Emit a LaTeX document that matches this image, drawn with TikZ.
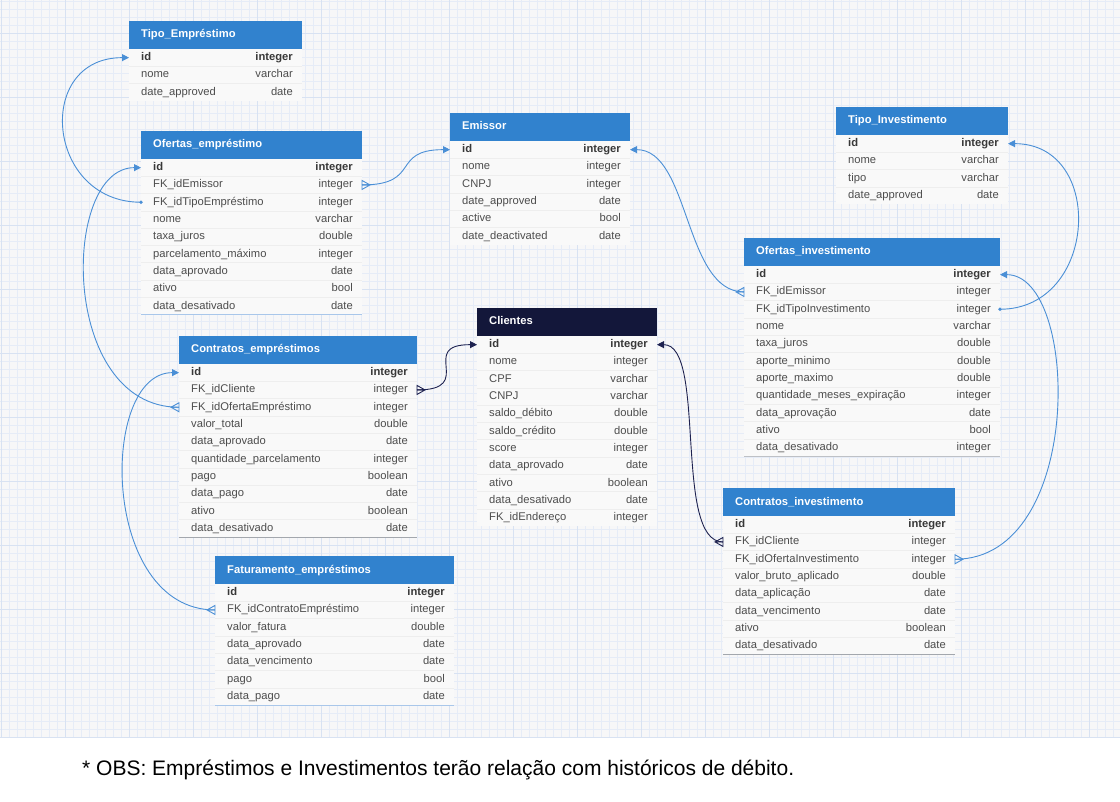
\documentclass[tikz,border=0pt]{standalone}
\usepackage{fontspec}
\setmainfont{Liberation Sans}
\usetikzlibrary{arrows.meta}

\definecolor{hdrblue}{HTML}{3182CE}
\definecolor{hdrnavy}{HTML}{13173A}
\definecolor{linkblue}{HTML}{4A8FD6}
\definecolor{linknavy}{HTML}{1E2250}
\definecolor{fieldtxt}{HTML}{4D4D4D}
\definecolor{idtxt}{HTML}{383838}
\definecolor{canvas}{HTML}{F7F7F8}
\definecolor{gridminor}{HTML}{E6ECF7}
\definecolor{gridmajor}{HTML}{D8E2F2}
\definecolor{rowfill}{HTML}{F9F9F9}
\definecolor{rowsep}{HTML}{EEEEEE}
\definecolor{edgegray}{HTML}{A3A7AD}
\definecolor{edgeblue}{HTML}{A9C7EA}

\tikzset{
  hdr/.style={fill=#1, minimum height=28pt, anchor=north west, inner sep=0pt, outer sep=0pt},
  rowbox/.style={fill=rowfill, minimum height=17.3pt, anchor=north west, inner sep=0pt, outer sep=0pt},
  fieldtext/.style={anchor=west, inner sep=0pt, text height=8pt, text depth=2pt,
    font=\fontsize{11.2}{13}\selectfont, text=fieldtxt},
  typetext/.style={anchor=east, inner sep=0pt, text height=8pt, text depth=2pt,
    font=\fontsize{11.2}{13}\selectfont, text=fieldtxt},
  titletext/.style={anchor=west, inner sep=0pt, text height=8pt, text depth=2pt,
    font=\fontsize{11.2}{13}\selectfont\bfseries, text=white},
  sepline/.style={draw=rowsep, line width=0.6pt},
  conn/.style={draw=#1, line width=0.9pt},
  onetip/.style={-{Triangle[length=7pt,width=7pt]}},
  crow/.style={draw=#1, line width=0.9pt, line join=miter},
  gminor/.style={draw=gridminor, line width=0.5pt},
  gmajor/.style={draw=gridmajor, line width=0.7pt},
  notetext/.style={anchor=base west, inner sep=0pt, font=\fontsize{21}{24}\selectfont, text=black},
}

% one table: name, x, y, width, title, header colour, list of field/type
\newcommand\erdtable[7]{%
  \node[hdr=#6, minimum width=#4pt] (#1) at (#2,#3) {};
  \node[titletext] (#1-title) at ([xshift=12pt]#1.west) {#5};
  \foreach \fld/\typ [count=\i] in {#7} {
    \node[rowbox, minimum width=#4pt] (#1-\i) at (#2,{#3+28+(\i-1)*17.3}) {};
    \ifnum\i>1 \draw[sepline] (#1-\i.north west) -- (#1-\i.north east);\fi
    \ifnum\i=1
      \node[fieldtext, text=idtxt, font=\fontsize{11.2}{13}\selectfont\bfseries] (#1-\i-f) at ([xshift=12pt]#1-\i.west) {\fld};
      \node[typetext, text=idtxt, font=\fontsize{11.2}{13}\selectfont\bfseries] (#1-\i-t) at ([xshift=-9pt]#1-\i.east) {\typ};
    \else
      \node[fieldtext] (#1-\i-f) at ([xshift=12pt]#1-\i.west) {\fld};
      \node[typetext] (#1-\i-t) at ([xshift=-9pt]#1-\i.east) {\typ};
    \fi
  }%
}

% open crow's foot on the right / left edge of a row
\newcommand\crowR[2]{\draw[crow=#2] ([yshift=4.5pt]#1) -- ++(8,4.5) -- ++(-8,4.5) -- cycle (#1) -- ++(8,0);}
\newcommand\crowL[2]{\draw[crow=#2] ([yshift=4.5pt]#1) -- ++(-8,4.5) -- ++(8,4.5) -- cycle (#1) -- ++(-8,0);}

\begin{document}
\begin{tikzpicture}[x=1pt,y=-1pt]
\useasboundingbox (0,0) rectangle (1120,802);
\fill[white] (0,0) rectangle (1120,802);
\fill[canvas] (0,0) rectangle (1120,738);

% grid paper
\foreach \gx in {1,9,...,1119} \draw[gminor] (\gx,0) -- (\gx,738);
\foreach \gy in {1,9,...,737} \draw[gminor] (0,\gy) -- (1120,\gy);
\foreach \gx in {1,65,...,1119} \draw[gmajor] (\gx,0) -- (\gx,738);
\foreach \gy in {33,97,...,737} \draw[gmajor] (0,\gy) -- (1120,\gy);

% tables
\erdtable{tipoemp}{129}{21}{173}{Tipo\_Empréstimo}{hdrblue}{
  id/integer, nome/varchar, date\_approved/date}

\erdtable{ofemp}{141}{131}{221}{Ofertas\_empréstimo}{hdrblue}{
  id/integer, FK\_idEmissor/integer, FK\_idTipoEmpréstimo/integer, nome/varchar,
  taxa\_juros/double, parcelamento\_máximo/integer, data\_aprovado/date,
  ativo/bool, data\_desativado/date}

\erdtable{emissor}{450}{113}{180}{Emissor}{hdrblue}{
  id/integer, nome/integer, CNPJ/integer, date\_approved/date, active/bool,
  date\_deactivated/date}

\erdtable{tipoinv}{836}{107}{172}{Tipo\_Investimento}{hdrblue}{
  id/integer, nome/varchar, tipo/varchar, date\_approved/date}

\erdtable{ofinv}{744}{238}{256}{Ofertas\_investimento}{hdrblue}{
  id/integer, FK\_idEmissor/integer, FK\_idTipoInvestimento/integer, nome/varchar,
  taxa\_juros/double, aporte\_minimo/double, aporte\_maximo/double,
  quantidade\_meses\_expiração/integer, data\_aprovação/date, ativo/bool,
  data\_desativado/integer}

\erdtable{clientes}{477}{308}{180}{Clientes}{hdrnavy}{
  id/integer, nome/integer, CPF/varchar, CNPJ/varchar, saldo\_débito/double,
  saldo\_crédito/double, score/integer, data\_aprovado/date, ativo/boolean,
  data\_desativado/date, FK\_idEndereço/integer}

\erdtable{contemp}{179}{336}{238}{Contratos\_empréstimos}{hdrblue}{
  id/integer, FK\_idCliente/integer, FK\_idOfertaEmpréstimo/integer,
  valor\_total/double, data\_aprovado/date, quantidade\_parcelamento/integer,
  pago/boolean, data\_pago/date, ativo/boolean, data\_desativado/date}

\erdtable{continv}{723}{488}{232}{Contratos\_investimento}{hdrblue}{
  id/integer, FK\_idCliente/integer, FK\_idOfertaInvestimento/integer,
  valor\_bruto\_aplicado/double, data\_aplicação/date, data\_vencimento/date,
  ativo/boolean, data\_desativado/date}

\erdtable{fatemp}{215}{556}{239}{Faturamento\_empréstimos}{hdrblue}{
  id/integer, FK\_idContratoEmpréstimo/integer, valor\_fatura/double,
  data\_aprovado/date, data\_vencimento/date, pago/bool, data\_pago/date}

% bottom edges of some tables
\draw[edgeblue, line width=1pt] (ofemp-9.south west) -- (ofemp-9.south east);
\draw[edgegray, line width=1pt] (contemp-10.south west) -- (contemp-10.south east);
\draw[edgeblue, line width=1pt] (fatemp-7.south west) -- (fatemp-7.south east);
\draw[edgegray!70, line width=1pt] (ofinv-11.south west) -- (ofinv-11.south east);
\draw[edgegray, line width=1pt] (continv-8.south west) -- (continv-8.south east);

% relations
\draw[conn=linkblue, onetip] (ofemp-3.west) .. controls +(-95,0) and +(-95,0) .. (tipoemp-1.west);
\fill[linkblue] (ofemp-3.west) circle (1.8pt);

\draw[conn=linkblue, onetip] (ofemp-2.east) .. controls +(60,0) and +(-60,0) .. (emissor-1.west);
\crowR{ofemp-2.east}{linkblue}

\draw[conn=linkblue, onetip] (ofinv-2.west) .. controls +(-60,0) and +(60,0) .. (emissor-1.east);
\crowL{ofinv-2.west}{linkblue}

\draw[conn=linkblue, onetip] (ofinv-3.east) .. controls +(98,0) and +(98,0) .. (tipoinv-1.east);
\fill[linkblue] (ofinv-3.east) circle (1.8pt);

\draw[conn=linkblue, onetip] (continv-3.east) .. controls +(130,0) and +(80,0) .. (ofinv-1.east);
\crowR{continv-3.east}{linkblue}

\draw[conn=linknavy, onetip] (contemp-2.east) .. controls +(60,0) and +(-60,0) .. (clientes-1.west);
\crowR{contemp-2.east}{linknavy}

\draw[conn=linknavy, onetip] (continv-2.west) .. controls +(-50,0) and +(50,0) .. (clientes-1.east);
\crowL{continv-2.west}{linknavy}

\draw[conn=linkblue, onetip] (fatemp-2.west) .. controls +(-115,0) and +(-80,0) .. (contemp-1.west);
\crowL{fatemp-2.west}{linkblue}

\draw[conn=linkblue, onetip] (contemp-3.west) .. controls +(-120,0) and +(-80,0) .. (ofemp-1.west);
\crowL{contemp-3.west}{linkblue}

% footnote
\node[notetext] (note) at (82,775) {* OBS: Empréstimos e Investimentos terão relação com históricos de débito.};
\end{tikzpicture}
\end{document}
